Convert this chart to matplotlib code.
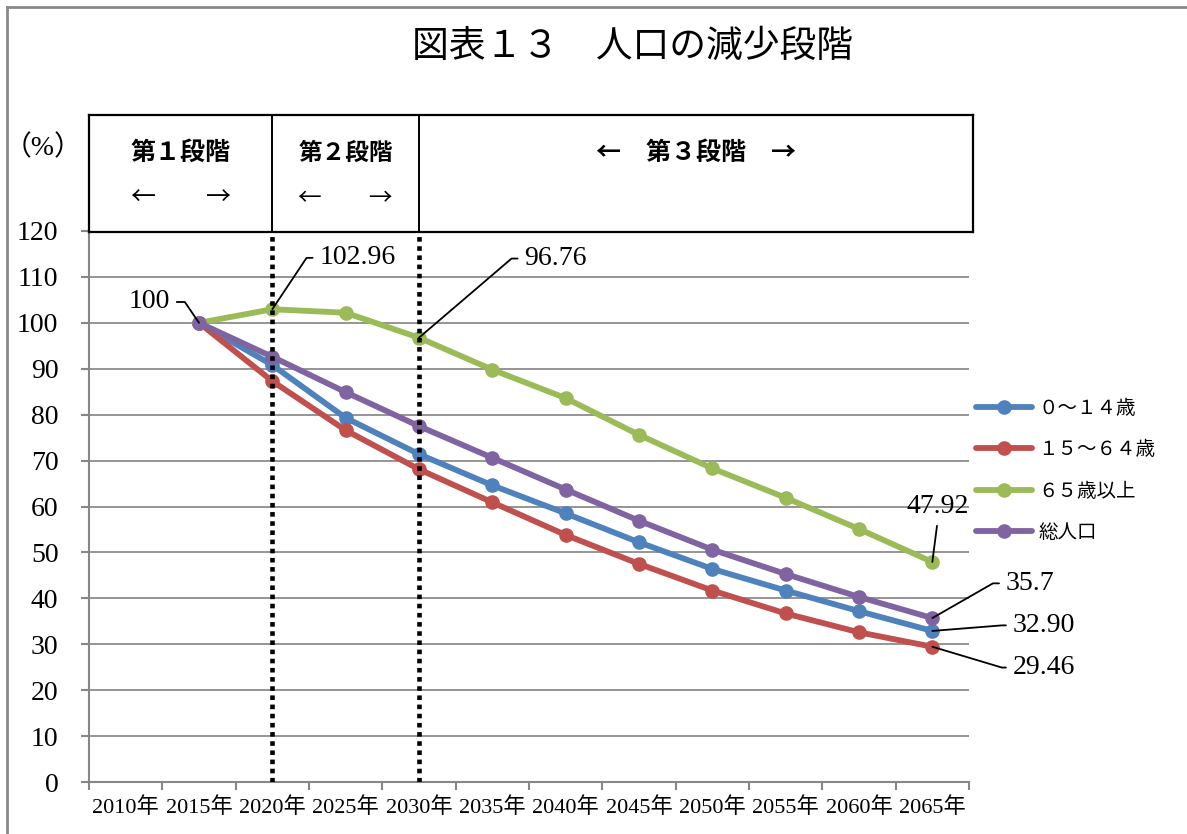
import numpy as np
import matplotlib
matplotlib.use('Agg')
import matplotlib.pyplot as plt
from matplotlib.lines import Line2D

# categories and series (index 0 = 2010, lines start at 2015)
years = ['2010年', '2015年', '2020年', '2025年', '2030年', '2035年',
         '2040年', '2045年', '2050年', '2055年', '2060年', '2065年']
young = [100, 90.8, 79.3, 71.4, 64.6, 58.5, 52.2, 46.4, 41.7, 37.2, 32.90]
working = [100, 87.3, 76.6, 68.1, 60.9, 53.8, 47.5, 41.7, 36.7, 32.6, 29.46]
elderly = [100, 102.96, 102.2, 96.76, 89.8, 83.6, 75.6, 68.3, 61.9, 55.1, 47.92]
total = [100, 92.6, 84.9, 77.5, 70.6, 63.7, 56.9, 50.6, 45.3, 40.3, 35.7]
series_names = ['０～１４歳', '１５～６４歳', '６５歳以上', '総人口']
colors = ['#4F81BD', '#C0504D', '#9BBB59', '#8064A2']
stage_names = ['第１段階', '第２段階', '←　第３段階　→']
stage_bounds = [2, 4]  # 2020, 2030

serif = ['Liberation Serif', 'Noto Sans CJK JP']
cjk = ['Noto Sans CJK JP', 'DejaVu Sans']
plt.rcParams['font.family'] = serif

W, H = 1187, 834
fig = plt.figure(figsize=(W / 100, H / 100), dpi=100)
ax = fig.add_axes([89 / W, 1 - 782 / H, (969 - 89) / W, (782 - 231) / H])

xs = np.arange(1, len(years))
allseries = [young, working, elderly, total]
for vals, c, name in zip(allseries, colors, series_names):
    ax.plot(xs, vals, color=c, lw=4.2, marker='o', ms=9.5, label=name,
            solid_capstyle='round', zorder=3)

ax.set_xlim(-0.5, len(years) - 0.5)
ax.set_ylim(0, 120)
ax.set_yticks(np.arange(0, 121, 10))
ax.set_xticks(np.arange(-0.5, len(years), 1.0))
ax.set_xticklabels([])
ax.set_xticks(np.arange(len(years)), minor=True)
ax.set_xticklabels(years, minor=True, fontsize=16)
ax.tick_params(axis='x', which='major', length=6, width=1.5, color='#868686')
ax.tick_params(axis='x', which='minor', length=0, pad=11)
ax.tick_params(axis='y', length=6, width=1.5, color='#868686', labelsize=20, pad=16)
ax.grid(axis='y', color='#8c8c8c', lw=1.3)
ax.set_axisbelow(True)
for s in ['top', 'right']:
    ax.spines[s].set_visible(False)
for s in ['left', 'bottom']:
    ax.spines[s].set_color('#868686')
    ax.spines[s].set_linewidth(1.5)

for b in stage_bounds:
    ax.axvline(b, color='black', lw=3.3, linestyle=(0, (1, 1)), zorder=5)

# data labels with leader lines
labels = [
    (elderly, 0, '100', (-21, 15), 'right', 0, 15, (1, 0.5)),
    (elderly, 1, '102.96', (34, 37), 'left', 180, 13, (0, 0.5)),
    (elderly, 3, '96.76', (76, 57), 'left', 180, 13, (0, 0.5)),
    (elderly, 10, '47.92', (4, 40), 'center', None, 0, (0.5, 0)),
    (total, 10, '35.7', (53, 25), 'left', 180, 13, (0, 0.5)),
    (young, 10, '32.90', (58, 4), 'left', 180, 11, (0, 0.5)),
    (working, 10, '29.46', (58, -15), 'left', 180, 11, (0, 0.5)),
]
for vals, i, txt, off, ha, angA, arm, rp in labels:
    if angA is None:
        cs = 'arc3'
    else:
        cs = 'arc,angleA=%d,armA=%d,angleB=0,armB=0,rad=0' % (angA, arm)
    ax.annotate(txt, xy=(xs[i], vals[i]), xytext=off, textcoords='offset points',
                ha=ha, va='center', fontsize=20, zorder=6,
                arrowprops=dict(arrowstyle='-', color='black', lw=1.3,
                                connectionstyle=cs, relpos=rp,
                                shrinkA=3, shrinkB=0))

ax.legend(loc='upper left', bbox_to_anchor=(968 / W, 1 - 390 / H),
          bbox_transform=fig.transFigure, frameon=False,
          prop={'family': cjk, 'size': 14}, handlelength=2.9,
          handletextpad=0.3, labelspacing=1.05, borderaxespad=0)

# stage box above the plot
bx = fig.add_axes([89 / W, 1 - 232 / H, (973 - 89) / W, (232 - 115) / H])
bw = (973 - 89) / (969 - 89) * len(years)
bx.set_xlim(-0.5, -0.5 + bw)
bx.set_ylim(0, 1)
bx.set_xticks([])
bx.set_yticks([])
bx.patch.set_alpha(0)
for s in bx.spines.values():
    s.set_color('black')
    s.set_linewidth(1.6)
for b in stage_bounds:
    bx.axvline(b, color='black', lw=1.4)
edges = [-0.5] + stage_bounds + [-0.5 + bw]
sizes = [18, 17, 18]
for k, name in enumerate(stage_names):
    cx = (edges[k] + edges[k + 1]) / 2
    bx.text(cx, 0.68, name, ha='center', va='center', fontsize=sizes[k],
            family=cjk, weight='bold')
    if k < 2:
        bx.text(cx, 0.29, '←　　→', ha='center', va='center',
                fontsize=sizes[k], family=cjk)

fig.text(632 / W, 1 - 46 / H, '図表１３　人口の減少段階', ha='center', va='center',
         fontsize=26.5, family=cjk)
fig.text(43 / W, 1 - 148 / H, '（%）', ha='center', va='center', fontsize=20)

# outer frame (top and left only visible)
fig.add_artist(Line2D([7 / W, 7 / W], [0, 1 - 7 / H], color='#8a8a8a', lw=2,
                      transform=fig.transFigure))
fig.add_artist(Line2D([7 / W, 1], [1 - 7 / H, 1 - 7 / H], color='#8a8a8a', lw=2,
                      transform=fig.transFigure))

fig.savefig('out.png', dpi=100)
